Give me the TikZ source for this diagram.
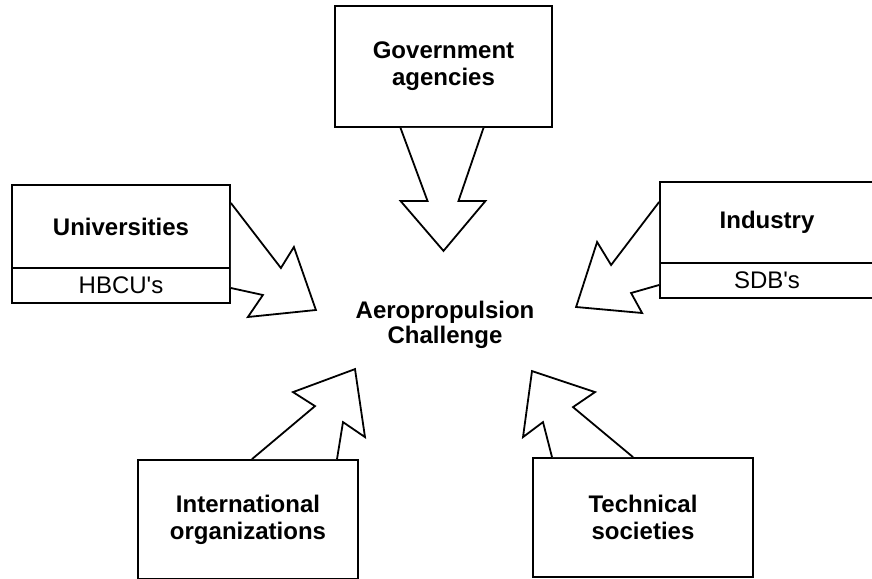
\documentclass[tikz,border=0pt]{standalone}
\usepackage{fontspec}
\setmainfont{Liberation Sans}
\usetikzlibrary{calc}
\tikzset{
  base/.style={draw=black, line width=1.8pt, fill=white, align=center,
              inner sep=0pt},
  party/.style={base, font=\fontsize{24}{27}\selectfont\bfseries},
  sub/.style={base, font=\fontsize{24}{27}\selectfont},
  goal/.style={align=center, font=\fontsize{24}{25}\selectfont\bfseries},
  fatarrow/.style={draw=black, line width=1.8pt, line join=miter, fill=white},
}

\begin{document}
\begin{tikzpicture}[x=1pt,y=-1pt]
        \useasboundingbox (0,0) rectangle (872,578);
        % centre
        \node[goal] (aero) at (445,325){Aeropropulsion\\Challenge};
        % top
        \node[party,minimum width=217pt,minimum height=121pt] (gov) at (443.5,66.5){Government\\agencies};
        % left and right: name on top, minority part below
        \node[party,minimum width=218pt,minimum height=83pt] (uni) at (121,226.5){Universities};
        \node[sub,minimum width=218pt,minimum height=35pt] (hbcu) at (121,285.5){HBCU\textquotesingle s};
        \node[party,minimum width=214pt,minimum height=81pt] (ind) at (767,222.5){Industry};
        \node[sub,minimum width=214pt,minimum height=35pt] (sdb) at (767,280.5){SDB\textquotesingle s};
        % bottom
        \node[party,minimum width=220pt,minimum height=119pt] (intl) at (248,519.5){International\\organizations};
        \node[party,minimum width=220pt,minimum height=119pt] (tech) at (643,517.5){Technical\\societies};
        % block arrows into the centre
        \draw[fatarrow,shift={(gov.south)}] (-43,0) -- (-16,73) -- (-43,73) -- (0,123)
              -- (42,73) -- (15,73) -- (40,0);
        \draw[fatarrow,shift={(uni.east)}] (0,-23.5) -- (50,41.5) -- (63,20.5) -- (85,83.5)
              -- (17,90.5) -- (32,68.5) -- (0,61.5);
        \draw[fatarrow,shift={(ind.west)}] (0,-20.5) -- (-48,42.5) -- (-62,19.5) -- (-83,84.5)
              -- (-17,90.5) -- (-28,70.5) -- (0,62.5);
        \draw[fatarrow,shift={(intl.north)}] (4,0) -- (67,-53) -- (45,-67) -- (107,-90)
              -- (117,-22) -- (95,-37) -- (89,0);
        \draw[fatarrow,shift={(tech.north)}] (-10,0) -- (-70,-50) -- (-48,-65) -- (-111,-86)
              -- (-120,-20) -- (-100,-35) -- (-91,0);
\end{tikzpicture}
\end{document}
